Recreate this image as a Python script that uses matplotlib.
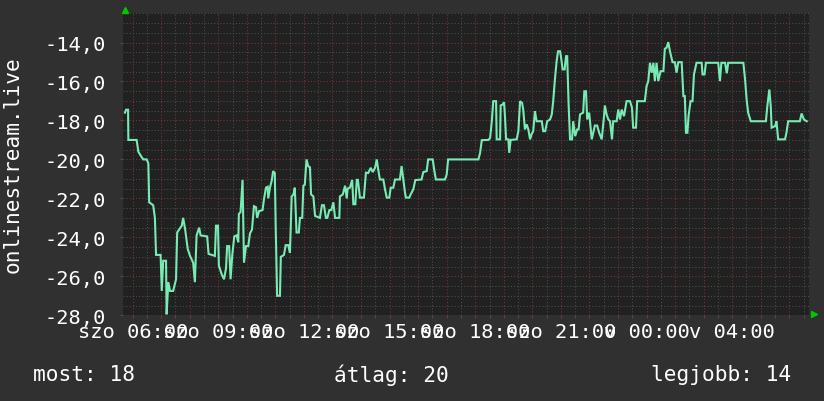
import matplotlib
matplotlib.use("Agg")
import matplotlib.pyplot as plt
from matplotlib.ticker import MultipleLocator, FuncFormatter
from matplotlib.transforms import offset_copy

# hours elapsed since "szo 06:00"
hours = [
    -0.27, -0.23, -0.16, -0.15, 0.14, 0.20, 0.28, 0.37, 0.49, 0.55,
    0.58, 0.72, 0.78, 0.82, 0.98, 1.02, 1.07, 1.17, 1.19, 1.25,
    1.31, 1.42, 1.52, 1.56, 1.72, 1.77, 1.84, 1.93, 2.01, 2.12,
    2.18, 2.24, 2.33, 2.38, 2.61, 2.66, 2.88, 2.92, 2.99, 3.02,
    3.12, 3.20, 3.27, 3.31, 3.38, 3.43, 3.49, 3.56, 3.64, 3.70,
    3.72, 3.78, 3.85, 3.90, 3.97, 4.05, 4.11, 4.18, 4.25, 4.32,
    4.36, 4.43, 4.55, 4.60, 4.67, 4.73, 4.75, 4.81, 4.87, 4.92,
    4.98, 5.01, 5.06, 5.16, 5.19, 5.30, 5.36, 5.45, 5.51, 5.57,
    5.63, 5.68, 5.74, 5.82, 5.86, 5.94, 5.98, 6.03, 6.09, 6.15,
    6.21, 6.25, 6.33, 6.39, 6.56, 6.63, 6.70, 6.77, 6.82, 6.89,
    6.96, 7.03, 7.09, 7.24, 7.26, 7.36, 7.44, 7.50, 7.53, 7.61,
    7.69, 7.73, 7.80, 7.85, 7.89,
    7.96, 8.10, 8.17, 8.25, 8.34, 8.41, 8.49, 8.55, 8.60, 8.66,
    8.78, 8.84, 8.90, 8.99, 9.04, 9.13, 9.19, 9.36, 9.42, 9.48,
    9.54, 9.57, 9.69, 9.74, 9.83, 9.90, 10.12, 10.18, 10.30, 10.35,
    10.51, 10.56, 10.62, 10.94, 11.00, 11.05, 12.11, 12.17, 12.23, 12.46,
    12.52, 12.58, 12.63, 12.73, 12.75, 12.87, 12.89, 12.96, 13.01, 13.04,
    13.08, 13.16, 13.19, 13.24, 13.45, 13.51, 13.57, 13.64, 13.68, 13.74,
    13.80, 13.86, 13.92, 13.97, 14.03, 14.09, 14.15, 14.33, 14.38, 14.45,
    14.52, 14.62, 14.68, 14.73, 14.79, 14.85, 14.90, 14.97, 15.00, 15.06,
    15.13, 15.18, 15.22, 15.27, 15.32, 15.39, 15.43, 15.50, 15.57, 15.62,
    15.67, 15.78, 15.82, 15.88, 15.92, 15.99,
    16.08, 16.19, 16.27, 16.34, 16.43, 16.51, 16.54, 16.60, 16.66, 16.72,
    16.79, 16.83, 16.95, 17.01, 17.07, 17.13, 17.21, 17.30, 17.42, 17.49,
    17.53, 17.63, 17.67, 17.94, 18.00, 18.06, 18.12, 18.18, 18.24, 18.29,
    18.35, 18.41, 18.49, 18.59, 18.64, 18.70, 18.76, 18.82, 18.91, 18.99,
    19.05, 19.11, 19.23, 19.29, 19.34, 19.38, 19.43, 19.47, 19.54, 19.61,
    19.66, 19.75, 19.93, 19.96, 20.03, 20.08, 20.51, 20.57, 20.62, 20.75,
    20.81, 20.86, 21.39, 21.45, 21.51, 21.56, 21.65, 22.18, 22.23, 22.30,
    22.35, 22.38, 22.50, 22.55, 22.61, 22.85, 22.90, 22.96, 23.37, 23.43,
    23.51, 23.61,
]

# rank, drawn negative so that better ranks sit higher
rank = [
    -17.6, -17.45, -17.45, -19.0, -19.0, -19.6, -19.8, -20.0, -20.0, -20.2,
    -22.2, -22.35, -23.0, -24.9, -24.9, -26.75, -25.2, -25.2, -27.95, -26.3,
    -26.75, -26.75, -26.15, -23.75, -23.4, -23.0, -23.6, -24.6, -24.95, -25.3,
    -26.3, -23.9, -23.5, -23.9, -23.95, -24.85, -24.95, -23.4, -23.4, -25.45,
    -25.9, -26.15, -25.6, -24.45, -24.45, -26.15, -24.9, -23.95, -23.9, -24.25,
    -22.8, -22.7, -21.05, -25.3, -24.45, -24.45, -23.8, -23.6, -22.4, -22.45,
    -23.0, -22.65, -22.6, -22.05, -21.45, -21.4, -22.0, -21.45, -21.1, -20.6,
    -20.7, -23.4, -27.0, -27.0, -25.0, -24.9, -24.4, -24.4, -24.8, -21.9,
    -21.8, -21.45, -23.75, -23.75, -23.0, -23.0, -21.35, -21.3, -20.0, -20.35,
    -20.4, -21.8, -21.9, -22.9, -23.0, -22.35, -22.35, -23.0, -23.0, -22.6,
    -22.6, -22.2, -23.0, -23.0, -21.9, -21.8, -21.35, -22.0, -21.5, -21.45,
    -21.05, -22.3, -22.3, -21.05, -21.05,
    -21.96, -21.96, -20.68, -20.7, -20.43, -20.65, -20.43, -20.0, -20.51, -21.03,
    -21.03, -21.54, -21.96, -21.96, -21.45, -21.45, -21.03, -21.03, -20.34, -21.03,
    -21.71, -21.96, -21.96, -21.79, -21.54, -21.06, -21.03, -20.65, -20.6, -20.0,
    -20.0, -20.51, -21.03, -21.03, -20.77, -20.0, -20.0, -19.66, -19.01, -19.0,
    -18.9, -18.04, -17.01, -17.01, -18.97, -18.97, -17.23, -17.18, -17.06, -17.78,
    -18.97, -18.97, -19.66, -19.0, -18.97, -18.55, -17.01, -17.1, -17.44, -18.46,
    -18.2, -18.46, -18.97, -18.72, -18.55, -17.52, -18.04, -18.04, -18.55, -18.55,
    -18.04, -17.95, -17.69, -17.01, -15.9, -14.96, -14.45, -14.45, -14.7, -15.38,
    -15.38, -14.7, -14.7, -17.18, -18.97, -18.97, -18.04, -18.8, -18.46, -18.46,
    -17.69, -17.6, -16.5, -16.5, -17.95, -17.6,
    -18.97, -18.26, -18.26, -18.63, -18.97, -17.78, -17.23, -17.69, -17.95, -18.04,
    -18.97, -18.04, -18.04, -17.44, -17.95, -17.44, -17.78, -17.01, -17.01, -17.35,
    -18.37, -18.37, -17.01, -17.01, -16.24, -15.98, -15.04, -15.55, -15.04, -15.98,
    -15.04, -15.98, -15.47, -15.47, -14.32, -14.27, -13.98, -14.45, -15.01, -15.01,
    -15.55, -15.01, -15.01, -16.75, -16.75, -18.63, -18.63, -17.78, -17.01, -17.01,
    -15.64, -15.04, -15.04, -15.64, -15.64, -15.04, -15.04, -15.98, -15.04, -15.04,
    -15.58, -15.04, -15.04, -15.9, -17.01, -17.61, -18.04, -18.04, -17.27, -16.41,
    -17.27, -18.37, -18.29, -18.04, -18.97, -18.97, -18.63, -18.04, -18.04, -17.64,
    -17.95, -18.04,
]

tick_hours = [0, 3, 6, 9, 12, 15, 18, 21]
tick_labels = ["szo 06:00", "szo 09:00", "szo 12:00", "szo 15:00",
               "szo 18:00", "szo 21:00", "v 00:00", "v 04:00"]
stat_names = ["most", "átlag", "legjobb"]
stat_values = [18, 20, 14]

BG = "#303030"
PLOT_BG = "#212121"
LINE = "#78ebb4"
MAJOR = "#7e3434"
MINOR = "#4e4e4e"
plt.rcParams["font.family"] = ["DejaVu Sans Mono"]

fig = plt.figure(figsize=(8.24, 4.02), dpi=100, facecolor=BG)
W, H = 824, 402
ax = fig.add_axes([123.5 / W, 1 - 316.3 / H, (809.3 - 123.5) / W, (316.3 - 14.3) / H])
ax.set_facecolor(PLOT_BG)

ax.plot(hours, rank, color=LINE, lw=1.5, solid_joinstyle="miter", zorder=3)

ax.set_xlim(-0.32, 23.70)
ax.set_ylim(-28, -12.5)

ax.xaxis.set_major_locator(MultipleLocator(1))
ax.xaxis.set_minor_locator(MultipleLocator(0.5))
ax.yaxis.set_major_locator(MultipleLocator(2))
ax.yaxis.set_minor_locator(MultipleLocator(0.5))

labels = dict(zip(tick_hours, tick_labels))
ax.xaxis.set_major_formatter(FuncFormatter(lambda v, p: labels.get(int(round(v)), "")))
ax.yaxis.set_major_formatter(FuncFormatter(lambda v, p: f"{v:.1f}".replace(".", ",")))

ax.set_axisbelow(True)
ax.grid(which="minor", color=MINOR, linestyle=(0, (1, 2)), linewidth=0.75)
ax.grid(which="major", color=MAJOR, linestyle=(0, (1, 2)), linewidth=0.75)

for s in ax.spines.values():
    s.set_visible(False)

ax.tick_params(axis="x", which="major", length=2.5, width=0.8, color=MAJOR,
               labelcolor="white", labelsize=14.7, pad=2)
ax.tick_params(axis="x", which="minor", length=2, width=0.8, color=MINOR)
ax.tick_params(axis="y", which="major", length=2, width=0.8, color=MINOR,
               labelcolor="white", labelsize=14.7, pad=11)
ax.tick_params(axis="y", which="minor", length=0)

# little green arrows at the axis ends
ax.plot([0], [1], marker="^", ms=4, color="#00c800", clip_on=False,
        transform=offset_copy(ax.transAxes, fig, x=1.2, y=3.5, units="dots"))
ax.plot([1], [0], marker=">", ms=4, color="#00c800", clip_on=False,
        transform=offset_copy(ax.transAxes, fig, x=4.5, y=1.3, units="dots"))

fig.text(13 / W, 1 - 165 / H, "onlinestream.live", rotation=90, color="white",
         ha="center", va="center", fontsize=15.2)

stat_x = [33 / W, 334 / W, 791 / W]
stat_ha = ["left", "left", "right"]
for name, val, x, ha in zip(stat_names, stat_values, stat_x, stat_ha):
    fig.text(x, 1 - 375 / H, f"{name}: {val}", color="white", ha=ha, va="center",
             fontsize=15.2)

fig.savefig("out.png", dpi=100, facecolor=BG)
